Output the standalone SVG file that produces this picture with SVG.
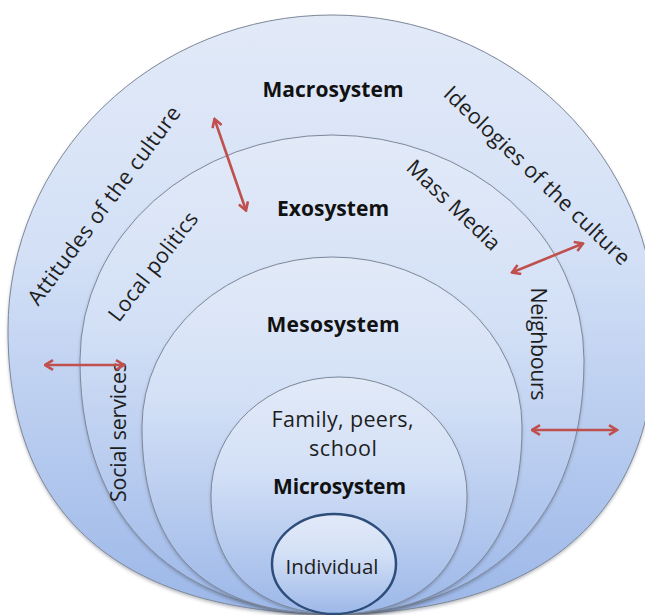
<svg xmlns="http://www.w3.org/2000/svg" width="645" height="615" viewBox="0 0 645 615">
<defs>
<linearGradient id="g" x1="0" y1="0" x2="0" y2="1">
<stop offset="0" stop-color="#e2eaf8"/>
<stop offset="0.4" stop-color="#d3e0f6"/>
<stop offset="1" stop-color="#9cb7e8"/>
</linearGradient>
<filter id="sh" x="-5%" y="-5%" width="110%" height="115%">
<feDropShadow dx="0" dy="2" stdDeviation="1.5" flood-color="#404858" flood-opacity="0.35"/>
</filter>
<marker id="ah" viewBox="0 0 12 12" markerWidth="12" markerHeight="12" refX="10.5" refY="6" markerUnits="userSpaceOnUse" orient="auto-start-reverse">
<path d="M2.5,1.2 L10.5,6 L2.5,10.8" fill="none" stroke="#c0504d" stroke-width="2.6" stroke-linejoin="miter"/>
</marker>
</defs>
<style>
.ring{fill:url(#g);stroke:#7d8899;stroke-width:1;filter:url(#sh)}
.ind{fill:url(#g);stroke:#2d4d7a;stroke-width:2.5}
.b{font-family:"Open Sans","Liberation Sans",sans-serif;font-weight:bold;font-size:21px;fill:#111;text-anchor:middle}
.r{font-family:"Open Sans","Liberation Sans",sans-serif;font-size:21.5px;fill:#1e1e1e;text-anchor:middle}
.arr{stroke:#c0504d;stroke-width:2.6;fill:none;marker-start:url(#ah);marker-end:url(#ah)}
</style>
<rect width="645" height="615" fill="#fff"/>

<g id="macrosystem">
<path class="ring" d="M8,330 A324,315 0 0 1 656,330 C656,560 484,614 333,614 C180,614 8,560 8,330 Z"/>
<text class="b" x="333" y="97" textLength="141">Macrosystem</text>
<text class="r" transform="translate(110,210) rotate(-53.5)" textLength="241">Attitudes of the culture</text>
<text class="r" transform="translate(532,181) rotate(43.7)" textLength="248">Ideologies of the culture</text>
</g>

<g id="exosystem">
<path class="ring" d="M80,360 A252,225 0 0 1 584,360 C584,545 459,614 333,614 C205,614 80,545 80,360 Z"/>
<text class="b" x="333" y="216" textLength="112">Exosystem</text>
<text class="r" transform="translate(159,271) rotate(-52.3)" textLength="132">Local politics</text>
<text class="r" transform="translate(448.5,210.5) rotate(43.6)" textLength="120">Mass Media</text>
<text class="r" transform="translate(126,432) rotate(-90)" textLength="140">Social services</text>
<text class="r" transform="translate(531,344) rotate(90)" textLength="113">Neighbours</text>
</g>

<g id="mesosystem">
<path class="ring" d="M142,427 A190,170 0 0 1 522,427 C522,560 449,614 333,614 C215,614 142,560 142,427 Z"/>
<text class="b" x="333" y="332" textLength="133">Mesosystem</text>
</g>

<g id="microsystem">
<path class="ring" d="M211,495 A128,118 0 0 1 467,495 C467,575 410,614 337,614 C265,614 211,575 211,495 Z"/>
<text class="r" x="342.5" y="427" textLength="142">Family, peers,</text>
<text class="r" x="343" y="456" textLength="68">school</text>
<text class="b" x="339.5" y="494" textLength="133">Microsystem</text>
</g>

<g id="individual">
<ellipse class="ind" cx="334" cy="564" rx="62" ry="50"/>
<text class="r" x="332" y="574" style="font-size:20.5px" textLength="93">Individual</text>
</g>

<g id="connectors">
<line class="arr" x1="214.5" y1="119" x2="246" y2="210.5"/>
<line class="arr" x1="512" y1="272.5" x2="583" y2="243.5"/>
<line class="arr" x1="532" y1="430" x2="617" y2="430"/>
<line class="arr" x1="45" y1="365" x2="124" y2="365"/>
</g>
</svg>
